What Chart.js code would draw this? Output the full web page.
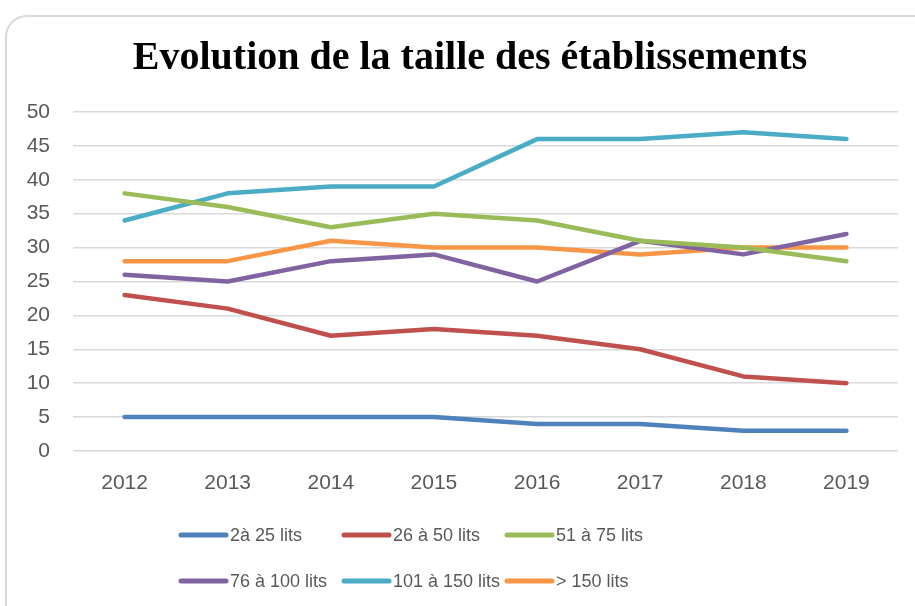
<!DOCTYPE html>
<html>
<head>
<meta charset="utf-8">
<script src="https://cdn.jsdelivr.net/npm/chart.js@4"></script>
<style>
  html, body { margin: 0; padding: 0; background: #fff; overflow: hidden; }
  #wrap { position: relative; width: 915px; height: 606px; }
  #card {
    position: absolute; left: 5px; top: 15px; width: 940px; height: 620px;
    border: 2px solid #d9d9d9; border-radius: 22px; box-sizing: border-box;
  }
  canvas { position: absolute; left: 0; top: 0; }
</style>
</head>
<body>
<div id="wrap">
  <div id="card"></div>
  <canvas id="chart" width="915" height="606"></canvas>
</div>
<script>
var titre = 'Evolution de la taille des établissements';
var annees = ['2012', '2013', '2014', '2015', '2016', '2017', '2018', '2019'];
var series = ['2à 25 lits', '26 à 50 lits', '51 à 75 lits', '76 à 100 lits', '101 à 150 lits', '> 150 lits'];
var v2a25 = [5, 5, 5, 5, 4, 4, 3, 3];
var v26a50 = [23, 21, 17, 18, 17, 15, 11, 10];
var v51a75 = [38, 36, 33, 35, 34, 31, 30, 28];
var v76a100 = [26, 25, 28, 29, 25, 31, 29, 32];
var v101a150 = [34, 38, 39, 39, 46, 46, 47, 46];
var vPlus150 = [28, 28, 31, 30, 30, 29, 30, 30];
var couleurs = ['#4F81BD', '#C0504D', '#9BBB59', '#8064A2', '#4BACC6', '#F79646'];

var valeurs = [v2a25, v26a50, v51a75, v76a100, v101a150, vPlus150];

// titre centre sur le cadre, pas sur la zone du graphique
var titreCadre = {
  id: 'titreCadre',
  afterDraw: function(chart) {
    var ctx = chart.ctx;
    ctx.save();
    ctx.font = 'bold 40px "Liberation Serif", "Times New Roman", serif';
    ctx.fillStyle = '#000';
    ctx.textAlign = 'center';
    ctx.textBaseline = 'alphabetic';
    ctx.fillText(titre, 470, 69);
    ctx.restore();
  }
};

// legende a la Excel : 3 colonnes, 2 lignes
var legendeGrille = {
  id: 'legendeGrille',
  afterDraw: function(chart) {
    var ctx = chart.ctx;
    ctx.save();
    ctx.font = '18px "Liberation Sans", Arial, sans-serif';
    ctx.textBaseline = 'middle';
    ctx.lineCap = 'round';
    chart.data.datasets.forEach(function(ds, i) {
      var x = 181 + (i % 3) * 163;
      var y = i < 3 ? 535 : 581;
      ctx.strokeStyle = ds.borderColor;
      ctx.lineWidth = 5;
      ctx.beginPath();
      ctx.moveTo(x, y);
      ctx.lineTo(x + 45, y);
      ctx.stroke();
      ctx.fillStyle = '#595959';
      ctx.fillText(ds.label, x + 49, y + 1);
    });
    ctx.restore();
  }
};

var ctx = document.getElementById('chart').getContext('2d');
var myChart = new Chart(ctx, {
  type: 'line',
  data: {
    labels: annees,
    datasets: series.map(function(nom, i) {
      return {
        label: nom,
        data: valeurs[i],
        borderColor: couleurs[i],
        backgroundColor: couleurs[i],
        borderWidth: 4.5,
        borderCapStyle: 'round',
        borderJoinStyle: 'round',
        pointRadius: 0,
        tension: 0
      };
    })
  },
  options: {
    responsive: false,
    animation: false,
    layout: { padding: { left: 0, right: 17, top: 112, bottom: 100 } },
    plugins: {
      legend: { display: false },
      tooltip: { enabled: false },
      title: { display: false }
    },
    scales: {
      x: {
        offset: true,
        grid: { display: false, drawTicks: false },
        border: { display: false },
        ticks: { color: '#595959', padding: 20, font: { family: '"Liberation Sans", Arial, sans-serif', size: 21 } },
        afterFit: function(s) { s.height = 55; }
      },
      y: {
        min: 0,
        max: 50,
        ticks: { stepSize: 5, color: '#595959', padding: 23, font: { family: '"Liberation Sans", Arial, sans-serif', size: 21 } },
        grid: { color: '#d9d9d9', lineWidth: 1.5, drawTicks: false },
        border: { display: false },
        afterFit: function(s) { s.width = 73; }
      }
    }
  },
  plugins: [titreCadre, legendeGrille]
});
</script>
</body>
</html>
